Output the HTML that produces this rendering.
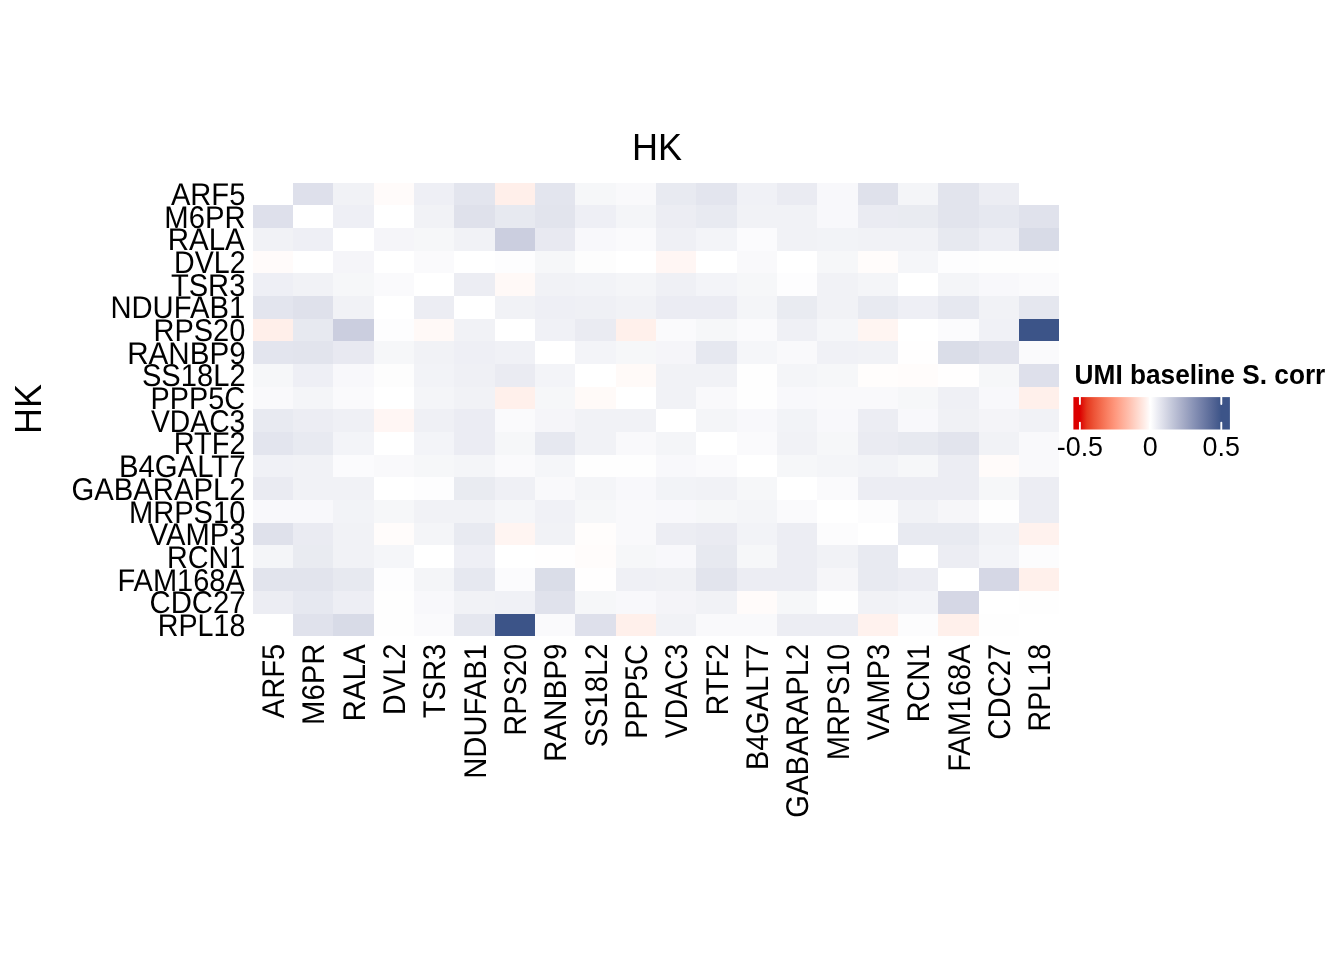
<!DOCTYPE html>
<html lang="en"><head><meta charset="utf-8"><title>HK heatmap</title>
<style>html,body{margin:0;padding:0;background:#fff}svg{display:block;font-family:"Liberation Sans",sans-serif}</style></head>
<body>
<svg width="1344" height="960" viewBox="0 0 1344 960">
<rect width="1344" height="960" fill="#fff"/>
<defs><linearGradient id="g" x1="0" x2="1" y1="0" y2="0"><stop offset="0.00%" stop-color="#DC0000"/><stop offset="4.15%" stop-color="#DC0000"/><stop offset="8.67%" stop-color="#E5381E"/><stop offset="13.19%" stop-color="#ED5437"/><stop offset="17.71%" stop-color="#F46C4E"/><stop offset="22.22%" stop-color="#FA8366"/><stop offset="26.74%" stop-color="#FF987E"/><stop offset="31.26%" stop-color="#FFAD97"/><stop offset="35.78%" stop-color="#FFC1B0"/><stop offset="40.29%" stop-color="#FFD6CA"/><stop offset="44.81%" stop-color="#FFEAE4"/><stop offset="49.33%" stop-color="#FFFFFF"/><stop offset="53.85%" stop-color="#EBECF3"/><stop offset="58.36%" stop-color="#D8DAE7"/><stop offset="62.88%" stop-color="#C4C8DA"/><stop offset="67.40%" stop-color="#B1B6CE"/><stop offset="71.92%" stop-color="#9EA5C2"/><stop offset="76.43%" stop-color="#8A94B7"/><stop offset="80.95%" stop-color="#7783AB"/><stop offset="85.47%" stop-color="#64739F"/><stop offset="89.99%" stop-color="#516393"/><stop offset="94.50%" stop-color="#3C5488"/><stop offset="100.00%" stop-color="#3C5488"/></linearGradient></defs>
<g shape-rendering="crispEdges">
<rect x="293" y="183" width="40" height="22" fill="#DEE0EB"/>
<rect x="333" y="183" width="41" height="22" fill="#F1F2F6"/>
<rect x="374" y="183" width="40" height="22" fill="#FFFBFA"/>
<rect x="414" y="183" width="40" height="22" fill="#EEEFF5"/>
<rect x="454" y="183" width="41" height="22" fill="#E3E5EE"/>
<rect x="495" y="183" width="40" height="22" fill="#FFEFEA"/>
<rect x="535" y="183" width="40" height="22" fill="#E3E5EE"/>
<rect x="575" y="183" width="41" height="22" fill="#F6F7F9"/>
<rect x="616" y="183" width="40" height="22" fill="#F9F9FB"/>
<rect x="656" y="183" width="40" height="22" fill="#E8EAF1"/>
<rect x="696" y="183" width="41" height="22" fill="#E3E5EE"/>
<rect x="737" y="183" width="40" height="22" fill="#F0F1F6"/>
<rect x="777" y="183" width="40" height="22" fill="#EAEBF2"/>
<rect x="817" y="183" width="41" height="22" fill="#F8F8FB"/>
<rect x="858" y="183" width="40" height="22" fill="#DFE1EB"/>
<rect x="898" y="183" width="40" height="22" fill="#F4F5F8"/>
<rect x="938" y="183" width="41" height="22" fill="#E2E4ED"/>
<rect x="979" y="183" width="40" height="22" fill="#ECEDF3"/>
<rect x="253" y="205" width="40" height="23" fill="#DEE0EB"/>
<rect x="333" y="205" width="41" height="23" fill="#EEEFF5"/>
<rect x="414" y="205" width="40" height="23" fill="#F1F2F6"/>
<rect x="454" y="205" width="41" height="23" fill="#DFE1EB"/>
<rect x="495" y="205" width="40" height="23" fill="#E7E9F0"/>
<rect x="535" y="205" width="40" height="23" fill="#E2E4ED"/>
<rect x="575" y="205" width="41" height="23" fill="#EEEFF5"/>
<rect x="616" y="205" width="40" height="23" fill="#F4F5F8"/>
<rect x="656" y="205" width="40" height="23" fill="#ECEDF3"/>
<rect x="696" y="205" width="41" height="23" fill="#E8EAF1"/>
<rect x="737" y="205" width="40" height="23" fill="#F1F2F6"/>
<rect x="777" y="205" width="40" height="23" fill="#F1F2F6"/>
<rect x="817" y="205" width="41" height="23" fill="#F8F8FB"/>
<rect x="858" y="205" width="40" height="23" fill="#EAEBF2"/>
<rect x="898" y="205" width="40" height="23" fill="#E9EBF1"/>
<rect x="938" y="205" width="41" height="23" fill="#E2E4ED"/>
<rect x="979" y="205" width="40" height="23" fill="#E6E8F0"/>
<rect x="1019" y="205" width="40" height="23" fill="#E0E2EC"/>
<rect x="253" y="228" width="40" height="23" fill="#F1F2F6"/>
<rect x="293" y="228" width="40" height="23" fill="#EEEFF5"/>
<rect x="374" y="228" width="40" height="23" fill="#F5F5F9"/>
<rect x="414" y="228" width="40" height="23" fill="#F6F7F9"/>
<rect x="454" y="228" width="41" height="23" fill="#F1F2F6"/>
<rect x="495" y="228" width="40" height="23" fill="#CBCEDF"/>
<rect x="535" y="228" width="40" height="23" fill="#E8E9F1"/>
<rect x="575" y="228" width="41" height="23" fill="#F8F8FB"/>
<rect x="616" y="228" width="40" height="23" fill="#FAFAFC"/>
<rect x="656" y="228" width="40" height="23" fill="#EFF0F5"/>
<rect x="696" y="228" width="41" height="23" fill="#F3F4F8"/>
<rect x="737" y="228" width="40" height="23" fill="#FBFBFD"/>
<rect x="777" y="228" width="40" height="23" fill="#F1F2F6"/>
<rect x="817" y="228" width="41" height="23" fill="#F2F3F7"/>
<rect x="858" y="228" width="40" height="23" fill="#F1F2F6"/>
<rect x="898" y="228" width="40" height="23" fill="#F1F2F6"/>
<rect x="938" y="228" width="41" height="23" fill="#E7E9F0"/>
<rect x="979" y="228" width="40" height="23" fill="#EDEEF4"/>
<rect x="1019" y="228" width="40" height="23" fill="#D8DBE7"/>
<rect x="253" y="251" width="40" height="22" fill="#FFFBFA"/>
<rect x="333" y="251" width="41" height="22" fill="#F5F5F9"/>
<rect x="414" y="251" width="40" height="22" fill="#FAFAFC"/>
<rect x="495" y="251" width="40" height="22" fill="#FDFDFE"/>
<rect x="535" y="251" width="40" height="22" fill="#F6F7F9"/>
<rect x="575" y="251" width="41" height="22" fill="#FDFDFD"/>
<rect x="656" y="251" width="40" height="22" fill="#FFF6F4"/>
<rect x="737" y="251" width="40" height="22" fill="#F9F9FB"/>
<rect x="817" y="251" width="41" height="22" fill="#F6F7F9"/>
<rect x="858" y="251" width="40" height="22" fill="#FFFCFB"/>
<rect x="898" y="251" width="40" height="22" fill="#F5F6F9"/>
<rect x="938" y="251" width="41" height="22" fill="#FDFDFE"/>
<rect x="979" y="251" width="40" height="22" fill="#FEFEFE"/>
<rect x="1019" y="251" width="40" height="22" fill="#FEFEFE"/>
<rect x="253" y="273" width="40" height="23" fill="#EEEFF5"/>
<rect x="293" y="273" width="40" height="23" fill="#F1F2F6"/>
<rect x="333" y="273" width="41" height="23" fill="#F6F7F9"/>
<rect x="374" y="273" width="40" height="23" fill="#FAFAFC"/>
<rect x="454" y="273" width="41" height="23" fill="#ECEDF3"/>
<rect x="495" y="273" width="40" height="23" fill="#FFF9F7"/>
<rect x="535" y="273" width="40" height="23" fill="#F1F2F6"/>
<rect x="575" y="273" width="41" height="23" fill="#F2F3F7"/>
<rect x="616" y="273" width="40" height="23" fill="#F4F5F8"/>
<rect x="656" y="273" width="40" height="23" fill="#EFF0F5"/>
<rect x="696" y="273" width="41" height="23" fill="#F3F4F8"/>
<rect x="737" y="273" width="40" height="23" fill="#F6F7F9"/>
<rect x="777" y="273" width="40" height="23" fill="#FDFDFE"/>
<rect x="817" y="273" width="41" height="23" fill="#F1F2F6"/>
<rect x="858" y="273" width="40" height="23" fill="#F4F5F8"/>
<rect x="938" y="273" width="41" height="23" fill="#F4F5F8"/>
<rect x="979" y="273" width="40" height="23" fill="#F8F8FB"/>
<rect x="1019" y="273" width="40" height="23" fill="#FAFAFC"/>
<rect x="253" y="296" width="40" height="23" fill="#E3E5EE"/>
<rect x="293" y="296" width="40" height="23" fill="#DFE1EB"/>
<rect x="333" y="296" width="41" height="23" fill="#F1F2F6"/>
<rect x="414" y="296" width="40" height="23" fill="#ECEDF3"/>
<rect x="495" y="296" width="40" height="23" fill="#F1F2F6"/>
<rect x="535" y="296" width="40" height="23" fill="#EEEFF5"/>
<rect x="575" y="296" width="41" height="23" fill="#EFF0F5"/>
<rect x="616" y="296" width="40" height="23" fill="#F1F2F6"/>
<rect x="656" y="296" width="40" height="23" fill="#EBECF3"/>
<rect x="696" y="296" width="41" height="23" fill="#EBECF3"/>
<rect x="737" y="296" width="40" height="23" fill="#F4F5F8"/>
<rect x="777" y="296" width="40" height="23" fill="#E9EBF1"/>
<rect x="817" y="296" width="41" height="23" fill="#F1F2F6"/>
<rect x="858" y="296" width="40" height="23" fill="#E8EAF1"/>
<rect x="898" y="296" width="40" height="23" fill="#EEEFF5"/>
<rect x="938" y="296" width="41" height="23" fill="#E6E8F0"/>
<rect x="979" y="296" width="40" height="23" fill="#F1F2F6"/>
<rect x="1019" y="296" width="40" height="23" fill="#E5E7EF"/>
<rect x="253" y="319" width="40" height="22" fill="#FFEFEA"/>
<rect x="293" y="319" width="40" height="22" fill="#E7E9F0"/>
<rect x="333" y="319" width="41" height="22" fill="#CBCEDF"/>
<rect x="374" y="319" width="40" height="22" fill="#FDFDFE"/>
<rect x="414" y="319" width="40" height="22" fill="#FFF9F7"/>
<rect x="454" y="319" width="41" height="22" fill="#F1F2F6"/>
<rect x="535" y="319" width="40" height="22" fill="#F0F1F6"/>
<rect x="575" y="319" width="41" height="22" fill="#EAEBF2"/>
<rect x="616" y="319" width="40" height="22" fill="#FFF0EB"/>
<rect x="656" y="319" width="40" height="22" fill="#FAFAFC"/>
<rect x="696" y="319" width="41" height="22" fill="#F6F7F9"/>
<rect x="737" y="319" width="40" height="22" fill="#FAFAFC"/>
<rect x="777" y="319" width="40" height="22" fill="#EFF0F5"/>
<rect x="817" y="319" width="41" height="22" fill="#F5F6F9"/>
<rect x="858" y="319" width="40" height="22" fill="#FFF5F2"/>
<rect x="938" y="319" width="41" height="22" fill="#FBFBFD"/>
<rect x="979" y="319" width="40" height="22" fill="#F0F1F6"/>
<rect x="1019" y="319" width="40" height="22" fill="#3C5488"/>
<rect x="253" y="341" width="40" height="23" fill="#E3E5EE"/>
<rect x="293" y="341" width="40" height="23" fill="#E2E4ED"/>
<rect x="333" y="341" width="41" height="23" fill="#E8E9F1"/>
<rect x="374" y="341" width="40" height="23" fill="#F6F7F9"/>
<rect x="414" y="341" width="40" height="23" fill="#F1F2F6"/>
<rect x="454" y="341" width="41" height="23" fill="#EEEFF5"/>
<rect x="495" y="341" width="40" height="23" fill="#F0F1F6"/>
<rect x="575" y="341" width="41" height="23" fill="#F3F4F8"/>
<rect x="616" y="341" width="40" height="23" fill="#F6F7F9"/>
<rect x="656" y="341" width="40" height="23" fill="#F5F5F9"/>
<rect x="696" y="341" width="41" height="23" fill="#E6E8F0"/>
<rect x="737" y="341" width="40" height="23" fill="#F5F6F9"/>
<rect x="777" y="341" width="40" height="23" fill="#F9F9FB"/>
<rect x="817" y="341" width="41" height="23" fill="#F0F1F6"/>
<rect x="858" y="341" width="40" height="23" fill="#F1F2F6"/>
<rect x="898" y="341" width="40" height="23" fill="#FFFEFE"/>
<rect x="938" y="341" width="41" height="23" fill="#DADDE8"/>
<rect x="979" y="341" width="40" height="23" fill="#E0E2EC"/>
<rect x="1019" y="341" width="40" height="23" fill="#FAFAFC"/>
<rect x="253" y="364" width="40" height="23" fill="#F6F7F9"/>
<rect x="293" y="364" width="40" height="23" fill="#EEEFF5"/>
<rect x="333" y="364" width="41" height="23" fill="#F8F8FB"/>
<rect x="374" y="364" width="40" height="23" fill="#FDFDFD"/>
<rect x="414" y="364" width="40" height="23" fill="#F2F3F7"/>
<rect x="454" y="364" width="41" height="23" fill="#EFF0F5"/>
<rect x="495" y="364" width="40" height="23" fill="#EAEBF2"/>
<rect x="535" y="364" width="40" height="23" fill="#F3F4F8"/>
<rect x="616" y="364" width="40" height="23" fill="#FFFAF8"/>
<rect x="656" y="364" width="40" height="23" fill="#F1F2F6"/>
<rect x="696" y="364" width="41" height="23" fill="#F1F2F6"/>
<rect x="737" y="364" width="40" height="23" fill="#FEFEFE"/>
<rect x="777" y="364" width="40" height="23" fill="#F4F5F8"/>
<rect x="817" y="364" width="41" height="23" fill="#F6F7F9"/>
<rect x="858" y="364" width="40" height="23" fill="#FFFDFC"/>
<rect x="898" y="364" width="40" height="23" fill="#FFFCFB"/>
<rect x="938" y="364" width="41" height="23" fill="#FFFEFE"/>
<rect x="979" y="364" width="40" height="23" fill="#F6F7F9"/>
<rect x="1019" y="364" width="40" height="23" fill="#DEE0EB"/>
<rect x="253" y="387" width="40" height="22" fill="#F9F9FB"/>
<rect x="293" y="387" width="40" height="22" fill="#F4F5F8"/>
<rect x="333" y="387" width="41" height="22" fill="#FAFAFC"/>
<rect x="414" y="387" width="40" height="22" fill="#F4F5F8"/>
<rect x="454" y="387" width="41" height="22" fill="#F1F2F6"/>
<rect x="495" y="387" width="40" height="22" fill="#FFF0EB"/>
<rect x="535" y="387" width="40" height="22" fill="#F6F7F9"/>
<rect x="575" y="387" width="41" height="22" fill="#FFFAF8"/>
<rect x="656" y="387" width="40" height="22" fill="#F1F2F6"/>
<rect x="696" y="387" width="41" height="22" fill="#F9F9FB"/>
<rect x="737" y="387" width="40" height="22" fill="#FEFEFE"/>
<rect x="777" y="387" width="40" height="22" fill="#F8F8FB"/>
<rect x="817" y="387" width="41" height="22" fill="#F9F9FB"/>
<rect x="858" y="387" width="40" height="22" fill="#F9F9FB"/>
<rect x="898" y="387" width="40" height="22" fill="#F6F7F9"/>
<rect x="938" y="387" width="41" height="22" fill="#EFF0F5"/>
<rect x="979" y="387" width="40" height="22" fill="#F8F8FB"/>
<rect x="1019" y="387" width="40" height="22" fill="#FFF0EB"/>
<rect x="253" y="409" width="40" height="23" fill="#E8EAF1"/>
<rect x="293" y="409" width="40" height="23" fill="#ECEDF3"/>
<rect x="333" y="409" width="41" height="23" fill="#EFF0F5"/>
<rect x="374" y="409" width="40" height="23" fill="#FFF6F4"/>
<rect x="414" y="409" width="40" height="23" fill="#EFF0F5"/>
<rect x="454" y="409" width="41" height="23" fill="#EBECF3"/>
<rect x="495" y="409" width="40" height="23" fill="#FAFAFC"/>
<rect x="535" y="409" width="40" height="23" fill="#F5F5F9"/>
<rect x="575" y="409" width="41" height="23" fill="#F1F2F6"/>
<rect x="616" y="409" width="40" height="23" fill="#F1F2F6"/>
<rect x="696" y="409" width="41" height="23" fill="#F4F5F8"/>
<rect x="737" y="409" width="40" height="23" fill="#F8F8FB"/>
<rect x="777" y="409" width="40" height="23" fill="#F2F3F7"/>
<rect x="817" y="409" width="41" height="23" fill="#F8F8FB"/>
<rect x="858" y="409" width="40" height="23" fill="#ECEDF3"/>
<rect x="898" y="409" width="40" height="23" fill="#F8F8FB"/>
<rect x="938" y="409" width="41" height="23" fill="#F0F1F5"/>
<rect x="979" y="409" width="40" height="23" fill="#F4F4F8"/>
<rect x="1019" y="409" width="40" height="23" fill="#F1F2F6"/>
<rect x="253" y="432" width="40" height="23" fill="#E3E5EE"/>
<rect x="293" y="432" width="40" height="23" fill="#E8EAF1"/>
<rect x="333" y="432" width="41" height="23" fill="#F3F4F8"/>
<rect x="414" y="432" width="40" height="23" fill="#F3F4F8"/>
<rect x="454" y="432" width="41" height="23" fill="#EBECF3"/>
<rect x="495" y="432" width="40" height="23" fill="#F6F7F9"/>
<rect x="535" y="432" width="40" height="23" fill="#E6E8F0"/>
<rect x="575" y="432" width="41" height="23" fill="#F1F2F6"/>
<rect x="616" y="432" width="40" height="23" fill="#F9F9FB"/>
<rect x="656" y="432" width="40" height="23" fill="#F4F5F8"/>
<rect x="737" y="432" width="40" height="23" fill="#FAFAFC"/>
<rect x="777" y="432" width="40" height="23" fill="#F1F2F6"/>
<rect x="817" y="432" width="41" height="23" fill="#F6F7F9"/>
<rect x="858" y="432" width="40" height="23" fill="#EAEBF2"/>
<rect x="898" y="432" width="40" height="23" fill="#E7E9F0"/>
<rect x="938" y="432" width="41" height="23" fill="#E2E4ED"/>
<rect x="979" y="432" width="40" height="23" fill="#F1F2F6"/>
<rect x="1019" y="432" width="40" height="23" fill="#F9F9FB"/>
<rect x="253" y="455" width="40" height="22" fill="#F0F1F6"/>
<rect x="293" y="455" width="40" height="22" fill="#F1F2F6"/>
<rect x="333" y="455" width="41" height="22" fill="#FBFBFD"/>
<rect x="374" y="455" width="40" height="22" fill="#F9F9FB"/>
<rect x="414" y="455" width="40" height="22" fill="#F6F7F9"/>
<rect x="454" y="455" width="41" height="22" fill="#F4F5F8"/>
<rect x="495" y="455" width="40" height="22" fill="#FAFAFC"/>
<rect x="535" y="455" width="40" height="22" fill="#F5F6F9"/>
<rect x="575" y="455" width="41" height="22" fill="#FEFEFE"/>
<rect x="616" y="455" width="40" height="22" fill="#FEFEFE"/>
<rect x="656" y="455" width="40" height="22" fill="#F8F8FB"/>
<rect x="696" y="455" width="41" height="22" fill="#FAFAFC"/>
<rect x="777" y="455" width="40" height="22" fill="#F6F7F9"/>
<rect x="817" y="455" width="41" height="22" fill="#F4F5F8"/>
<rect x="858" y="455" width="40" height="22" fill="#F2F3F7"/>
<rect x="898" y="455" width="40" height="22" fill="#F6F7F9"/>
<rect x="938" y="455" width="41" height="22" fill="#ECEDF3"/>
<rect x="979" y="455" width="40" height="22" fill="#FFFBFA"/>
<rect x="1019" y="455" width="40" height="22" fill="#F9F9FB"/>
<rect x="253" y="477" width="40" height="23" fill="#EAEBF2"/>
<rect x="293" y="477" width="40" height="23" fill="#F1F2F6"/>
<rect x="333" y="477" width="41" height="23" fill="#F1F2F6"/>
<rect x="414" y="477" width="40" height="23" fill="#FDFDFE"/>
<rect x="454" y="477" width="41" height="23" fill="#E9EBF1"/>
<rect x="495" y="477" width="40" height="23" fill="#EFF0F5"/>
<rect x="535" y="477" width="40" height="23" fill="#F9F9FB"/>
<rect x="575" y="477" width="41" height="23" fill="#F4F5F8"/>
<rect x="616" y="477" width="40" height="23" fill="#F8F8FB"/>
<rect x="656" y="477" width="40" height="23" fill="#F2F3F7"/>
<rect x="696" y="477" width="41" height="23" fill="#F1F2F6"/>
<rect x="737" y="477" width="40" height="23" fill="#F6F7F9"/>
<rect x="817" y="477" width="41" height="23" fill="#FAFAFC"/>
<rect x="858" y="477" width="40" height="23" fill="#ECEDF3"/>
<rect x="898" y="477" width="40" height="23" fill="#ECEDF3"/>
<rect x="938" y="477" width="41" height="23" fill="#ECEDF3"/>
<rect x="979" y="477" width="40" height="23" fill="#F6F7F9"/>
<rect x="1019" y="477" width="40" height="23" fill="#ECEDF3"/>
<rect x="253" y="500" width="40" height="23" fill="#F8F8FB"/>
<rect x="293" y="500" width="40" height="23" fill="#F8F8FB"/>
<rect x="333" y="500" width="41" height="23" fill="#F2F3F7"/>
<rect x="374" y="500" width="40" height="23" fill="#F6F7F9"/>
<rect x="414" y="500" width="40" height="23" fill="#F1F2F6"/>
<rect x="454" y="500" width="41" height="23" fill="#F1F2F6"/>
<rect x="495" y="500" width="40" height="23" fill="#F5F6F9"/>
<rect x="535" y="500" width="40" height="23" fill="#F0F1F6"/>
<rect x="575" y="500" width="41" height="23" fill="#F6F7F9"/>
<rect x="616" y="500" width="40" height="23" fill="#F9F9FB"/>
<rect x="656" y="500" width="40" height="23" fill="#F8F8FB"/>
<rect x="696" y="500" width="41" height="23" fill="#F6F7F9"/>
<rect x="737" y="500" width="40" height="23" fill="#F4F5F8"/>
<rect x="777" y="500" width="40" height="23" fill="#FAFAFC"/>
<rect x="858" y="500" width="40" height="23" fill="#FCFCFD"/>
<rect x="898" y="500" width="40" height="23" fill="#F1F2F6"/>
<rect x="938" y="500" width="41" height="23" fill="#F6F6F9"/>
<rect x="979" y="500" width="40" height="23" fill="#FEFEFE"/>
<rect x="1019" y="500" width="40" height="23" fill="#ECEDF3"/>
<rect x="253" y="523" width="40" height="22" fill="#DFE1EB"/>
<rect x="293" y="523" width="40" height="22" fill="#EAEBF2"/>
<rect x="333" y="523" width="41" height="22" fill="#F1F2F6"/>
<rect x="374" y="523" width="40" height="22" fill="#FFFCFB"/>
<rect x="414" y="523" width="40" height="22" fill="#F4F5F8"/>
<rect x="454" y="523" width="41" height="22" fill="#E8EAF1"/>
<rect x="495" y="523" width="40" height="22" fill="#FFF5F2"/>
<rect x="535" y="523" width="40" height="22" fill="#F1F2F6"/>
<rect x="575" y="523" width="41" height="22" fill="#FFFDFC"/>
<rect x="616" y="523" width="40" height="22" fill="#F9F9FB"/>
<rect x="656" y="523" width="40" height="22" fill="#ECEDF3"/>
<rect x="696" y="523" width="41" height="22" fill="#EAEBF2"/>
<rect x="737" y="523" width="40" height="22" fill="#F2F3F7"/>
<rect x="777" y="523" width="40" height="22" fill="#ECEDF3"/>
<rect x="817" y="523" width="41" height="22" fill="#FCFCFD"/>
<rect x="898" y="523" width="40" height="22" fill="#E8EAF1"/>
<rect x="938" y="523" width="41" height="22" fill="#E8EAF1"/>
<rect x="979" y="523" width="40" height="22" fill="#F1F2F6"/>
<rect x="1019" y="523" width="40" height="22" fill="#FFF2EE"/>
<rect x="253" y="545" width="40" height="23" fill="#F4F5F8"/>
<rect x="293" y="545" width="40" height="23" fill="#E9EBF1"/>
<rect x="333" y="545" width="41" height="23" fill="#F1F2F6"/>
<rect x="374" y="545" width="40" height="23" fill="#F5F6F9"/>
<rect x="454" y="545" width="41" height="23" fill="#EEEFF5"/>
<rect x="535" y="545" width="40" height="23" fill="#FFFEFE"/>
<rect x="575" y="545" width="41" height="23" fill="#FFFCFB"/>
<rect x="616" y="545" width="40" height="23" fill="#F6F7F9"/>
<rect x="656" y="545" width="40" height="23" fill="#F8F8FB"/>
<rect x="696" y="545" width="41" height="23" fill="#E7E9F0"/>
<rect x="737" y="545" width="40" height="23" fill="#F6F7F9"/>
<rect x="777" y="545" width="40" height="23" fill="#ECEDF3"/>
<rect x="817" y="545" width="41" height="23" fill="#F1F2F6"/>
<rect x="858" y="545" width="40" height="23" fill="#E8EAF1"/>
<rect x="938" y="545" width="41" height="23" fill="#ECEDF3"/>
<rect x="979" y="545" width="40" height="23" fill="#F3F4F8"/>
<rect x="1019" y="545" width="40" height="23" fill="#FCFCFD"/>
<rect x="253" y="568" width="40" height="23" fill="#E2E4ED"/>
<rect x="293" y="568" width="40" height="23" fill="#E2E4ED"/>
<rect x="333" y="568" width="41" height="23" fill="#E7E9F0"/>
<rect x="374" y="568" width="40" height="23" fill="#FDFDFE"/>
<rect x="414" y="568" width="40" height="23" fill="#F4F5F8"/>
<rect x="454" y="568" width="41" height="23" fill="#E6E8F0"/>
<rect x="495" y="568" width="40" height="23" fill="#FBFBFD"/>
<rect x="535" y="568" width="40" height="23" fill="#DADDE8"/>
<rect x="575" y="568" width="41" height="23" fill="#FFFEFE"/>
<rect x="616" y="568" width="40" height="23" fill="#EFF0F5"/>
<rect x="656" y="568" width="40" height="23" fill="#F0F1F5"/>
<rect x="696" y="568" width="41" height="23" fill="#E2E4ED"/>
<rect x="737" y="568" width="40" height="23" fill="#ECEDF3"/>
<rect x="777" y="568" width="40" height="23" fill="#ECEDF3"/>
<rect x="817" y="568" width="41" height="23" fill="#F6F6F9"/>
<rect x="858" y="568" width="40" height="23" fill="#E8EAF1"/>
<rect x="898" y="568" width="40" height="23" fill="#ECEDF3"/>
<rect x="979" y="568" width="40" height="23" fill="#D5D7E5"/>
<rect x="1019" y="568" width="40" height="23" fill="#FFF0EB"/>
<rect x="253" y="591" width="40" height="23" fill="#ECEDF3"/>
<rect x="293" y="591" width="40" height="23" fill="#E6E8F0"/>
<rect x="333" y="591" width="41" height="23" fill="#EDEEF4"/>
<rect x="374" y="591" width="40" height="23" fill="#FEFEFE"/>
<rect x="414" y="591" width="40" height="23" fill="#F8F8FB"/>
<rect x="454" y="591" width="41" height="23" fill="#F1F2F6"/>
<rect x="495" y="591" width="40" height="23" fill="#F0F1F6"/>
<rect x="535" y="591" width="40" height="23" fill="#E0E2EC"/>
<rect x="575" y="591" width="41" height="23" fill="#F6F7F9"/>
<rect x="616" y="591" width="40" height="23" fill="#F8F8FB"/>
<rect x="656" y="591" width="40" height="23" fill="#F4F4F8"/>
<rect x="696" y="591" width="41" height="23" fill="#F1F2F6"/>
<rect x="737" y="591" width="40" height="23" fill="#FFFBFA"/>
<rect x="777" y="591" width="40" height="23" fill="#F6F7F9"/>
<rect x="817" y="591" width="41" height="23" fill="#FEFEFE"/>
<rect x="858" y="591" width="40" height="23" fill="#F1F2F6"/>
<rect x="898" y="591" width="40" height="23" fill="#F3F4F8"/>
<rect x="938" y="591" width="41" height="23" fill="#D5D7E5"/>
<rect x="1019" y="591" width="40" height="23" fill="#FEFEFE"/>
<rect x="293" y="614" width="40" height="22" fill="#E0E2EC"/>
<rect x="333" y="614" width="41" height="22" fill="#D8DBE7"/>
<rect x="374" y="614" width="40" height="22" fill="#FEFEFE"/>
<rect x="414" y="614" width="40" height="22" fill="#FAFAFC"/>
<rect x="454" y="614" width="41" height="22" fill="#E5E7EF"/>
<rect x="495" y="614" width="40" height="22" fill="#3C5488"/>
<rect x="535" y="614" width="40" height="22" fill="#FAFAFC"/>
<rect x="575" y="614" width="41" height="22" fill="#DEE0EB"/>
<rect x="616" y="614" width="40" height="22" fill="#FFF0EB"/>
<rect x="656" y="614" width="40" height="22" fill="#F1F2F6"/>
<rect x="696" y="614" width="41" height="22" fill="#F9F9FB"/>
<rect x="737" y="614" width="40" height="22" fill="#F9F9FB"/>
<rect x="777" y="614" width="40" height="22" fill="#ECEDF3"/>
<rect x="817" y="614" width="41" height="22" fill="#ECEDF3"/>
<rect x="858" y="614" width="40" height="22" fill="#FFF2EE"/>
<rect x="898" y="614" width="40" height="22" fill="#FCFCFD"/>
<rect x="938" y="614" width="41" height="22" fill="#FFF0EB"/>
<rect x="979" y="614" width="40" height="22" fill="#FEFEFE"/>
</g>
<g font-size="31.4" fill="#000" text-anchor="end" style="text-rendering:geometricPrecision">
<text transform="translate(245.36 205.00) scale(0.9278 1)">ARF5</text>
<text transform="translate(245.60 227.68) scale(0.9325 1)">M6PR</text>
<text transform="translate(244.80 250.36) scale(0.9409 1)">RALA</text>
<text transform="translate(245.57 273.04) scale(0.9101 1)">DVL2</text>
<text transform="translate(245.36 295.72) scale(0.9278 1)">TSR3</text>
<text transform="translate(245.20 318.40) scale(0.9308 1)">NDUFAB1</text>
<text transform="translate(245.35 341.08) scale(0.9236 1)">RPS20</text>
<text transform="translate(245.61 363.76) scale(0.9432 1)">RANBP9</text>
<text transform="translate(245.59 386.44) scale(0.9278 1)">SS18L2</text>
<text transform="translate(244.95 409.12) scale(0.9172 1)">PPP5C</text>
<text transform="translate(245.33 431.80) scale(0.9017 1)">VDAC3</text>
<text transform="translate(245.59 454.48) scale(0.9234 1)">RTF2</text>
<text transform="translate(245.60 477.16) scale(0.9346 1)">B4GALT7</text>
<text transform="translate(245.60 499.84) scale(0.9324 1)">GABARAPL2</text>
<text transform="translate(245.36 522.52) scale(0.9265 1)">MRPS10</text>
<text transform="translate(245.36 545.20) scale(0.9288 1)">VAMP3</text>
<text transform="translate(245.20 567.88) scale(0.916 1)">RCN1</text>
<text transform="translate(244.80 590.56) scale(0.9242 1)">FAM168A</text>
<text transform="translate(245.60 613.24) scale(0.9333 1)">CDC27</text>
<text transform="translate(245.34 635.92) scale(0.9127 1)">RPL18</text>
</g>
<g font-size="31.4" fill="#000" text-anchor="end" style="text-rendering:geometricPrecision">
<text transform="translate(283.93 643.84) rotate(-90) scale(0.9278 1)">ARF5</text>
<text transform="translate(324.25 643.60) rotate(-90) scale(0.9325 1)">M6PR</text>
<text transform="translate(364.58 644.40) rotate(-90) scale(0.9409 1)">RALA</text>
<text transform="translate(404.92 643.63) rotate(-90) scale(0.9101 1)">DVL2</text>
<text transform="translate(445.24 643.84) rotate(-90) scale(0.9278 1)">TSR3</text>
<text transform="translate(485.57 644.00) rotate(-90) scale(0.9308 1)">NDUFAB1</text>
<text transform="translate(525.90 643.85) rotate(-90) scale(0.9236 1)">RPS20</text>
<text transform="translate(566.23 643.59) rotate(-90) scale(0.9432 1)">RANBP9</text>
<text transform="translate(606.56 643.61) rotate(-90) scale(0.9278 1)">SS18L2</text>
<text transform="translate(646.89 644.25) rotate(-90) scale(0.9172 1)">PPP5C</text>
<text transform="translate(687.22 643.87) rotate(-90) scale(0.9017 1)">VDAC3</text>
<text transform="translate(727.55 643.61) rotate(-90) scale(0.9234 1)">RTF2</text>
<text transform="translate(767.88 643.60) rotate(-90) scale(0.9346 1)">B4GALT7</text>
<text transform="translate(808.21 643.60) rotate(-90) scale(0.9324 1)">GABARAPL2</text>
<text transform="translate(848.54 643.84) rotate(-90) scale(0.9265 1)">MRPS10</text>
<text transform="translate(888.88 643.84) rotate(-90) scale(0.9288 1)">VAMP3</text>
<text transform="translate(929.20 644.00) rotate(-90) scale(0.916 1)">RCN1</text>
<text transform="translate(969.53 644.40) rotate(-90) scale(0.9242 1)">FAM168A</text>
<text transform="translate(1009.87 643.60) rotate(-90) scale(0.9333 1)">CDC27</text>
<text transform="translate(1050.19 643.86) rotate(-90) scale(0.9127 1)">RPL18</text>
</g>
<text x="657" y="159.9" font-size="36" text-anchor="middle">HK</text>
<text transform="translate(41 409) rotate(-90)" font-size="36" text-anchor="middle">HK</text>
<text transform="translate(1074.6 384) scale(0.937 1)" font-size="28.0" font-weight="bold">UMI baseline S. corr</text>
<rect x="1073.4" y="397.1" width="156.50" height="32.40" fill="url(#g)"/>
<path d="M1079.90 397.10v6.90M1079.90 429.50v-6.90" stroke="#fff" stroke-width="1.9" stroke-linecap="round" fill="none"/>
<path d="M1150.20 397.10v6.90M1150.20 429.50v-6.90" stroke="#fff" stroke-width="1.9" stroke-linecap="round" fill="none"/>
<path d="M1221.30 397.10v6.90M1221.30 429.50v-6.90" stroke="#fff" stroke-width="1.9" stroke-linecap="round" fill="none"/>
<g font-size="28.0" text-anchor="middle">
<text transform="translate(1079.90 456) scale(0.96 1)">-0.5</text>
<text transform="translate(1150.20 456) scale(0.96 1)">0</text>
<text transform="translate(1221.30 456) scale(0.96 1)">0.5</text>
</g>
</svg>
</body></html>
